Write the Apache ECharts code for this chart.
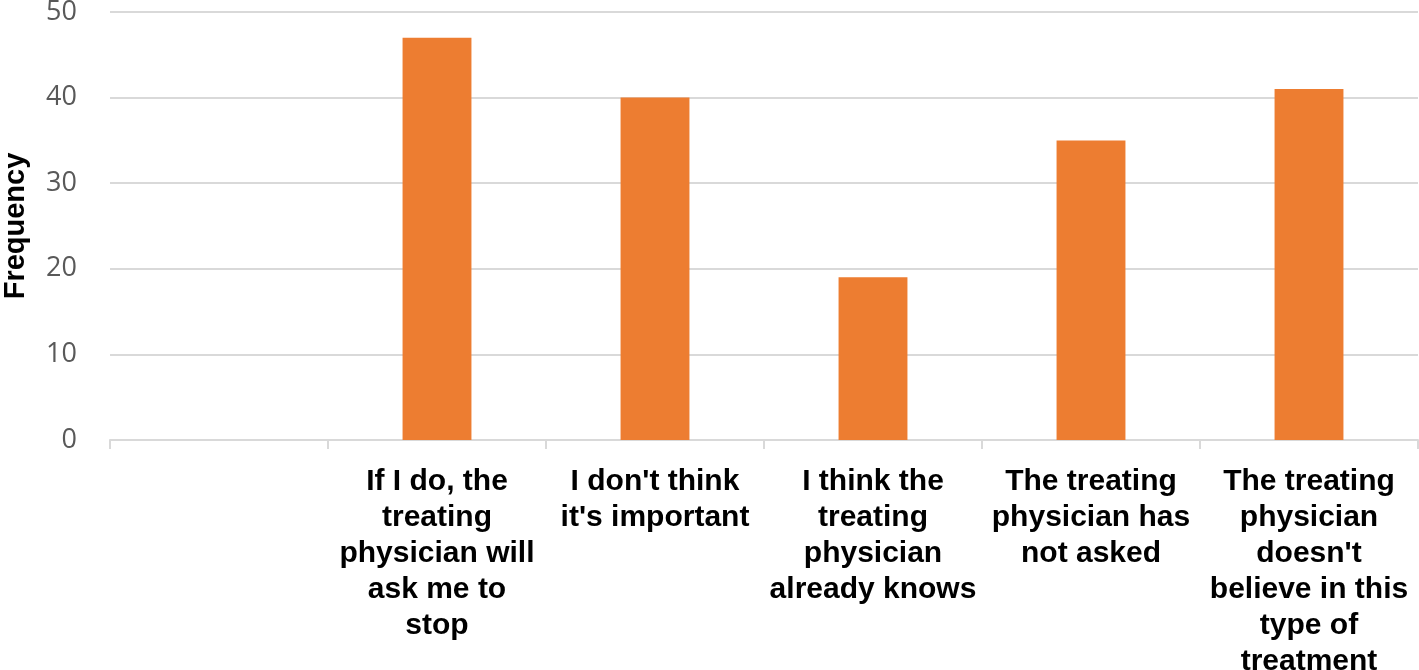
<!DOCTYPE html>
<html>
<head>
<meta charset="utf-8">
<script src="https://cdn.jsdelivr.net/npm/echarts@6/dist/echarts.min.js"></script>
<style>
html,body{margin:0;padding:0;background:#fff;}
#chart{width:1419px;height:670px;}
</style>
</head>
<body>
<div id="chart"></div>
<script>
const categories = [
  '',
  'If I do, the\ntreating\nphysician will\nask me to\nstop',
  "I don't think\nit's important",
  'I think the\ntreating\nphysician\nalready knows',
  'The treating\nphysician has\nnot asked',
  "The treating\nphysician\ndoesn't\nbelieve in this\ntype of\ntreatment"
];
const frequency = [null, 47, 40, 19, 35, 41];
const yTicks = { min: 0, max: 50, interval: 10 };

const chart = echarts.init(document.getElementById('chart'), null, { renderer: 'canvas' });
chart.setOption({
  animation: false,
  backgroundColor: '#ffffff',
  grid: { left: 110, right: 1, top: 12, bottom: 230, containLabel: false, outerBoundsMode: 'none' },
  xAxis: {
    type: 'category',
    data: categories,
    boundaryGap: true,
    axisLine: { show: true, lineStyle: { color: '#d9d9d9', width: 2 } },
    axisTick: { show: true, length: 9, lineStyle: { color: '#d9d9d9', width: 2 } },
    axisLabel: {
      interval: 0,
      margin: 24,
      color: '#000000',
      fontFamily: '"Liberation Sans", Arial, sans-serif',
      fontWeight: 'bold',
      fontSize: 30,
      lineHeight: 36,
      align: 'center'
    }
  },
  yAxis: {
    type: 'value',
    min: yTicks.min,
    max: yTicks.max,
    interval: yTicks.interval,
    name: 'Frequency',
    nameLocation: 'middle',
    nameRotate: 90,
    nameGap: 80,
    nameTextStyle: {
      color: '#000000',
      fontFamily: '"Liberation Sans", Arial, sans-serif',
      fontWeight: 'bold',
      fontSize: 29
    },
    axisLine: { show: false },
    axisTick: { show: false },
    axisLabel: {
      margin: 33,
      color: '#595959',
      fontFamily: '"Open Sans", sans-serif',
      fontSize: 27
    },
    splitLine: { show: true, lineStyle: { color: '#d9d9d9', width: 2 } }
  },
  series: [{
    type: 'bar',
    data: frequency,
    barWidth: '31.6%',
    itemStyle: { color: '#ED7D31' }
  }]
});
</script>
</body>
</html>
